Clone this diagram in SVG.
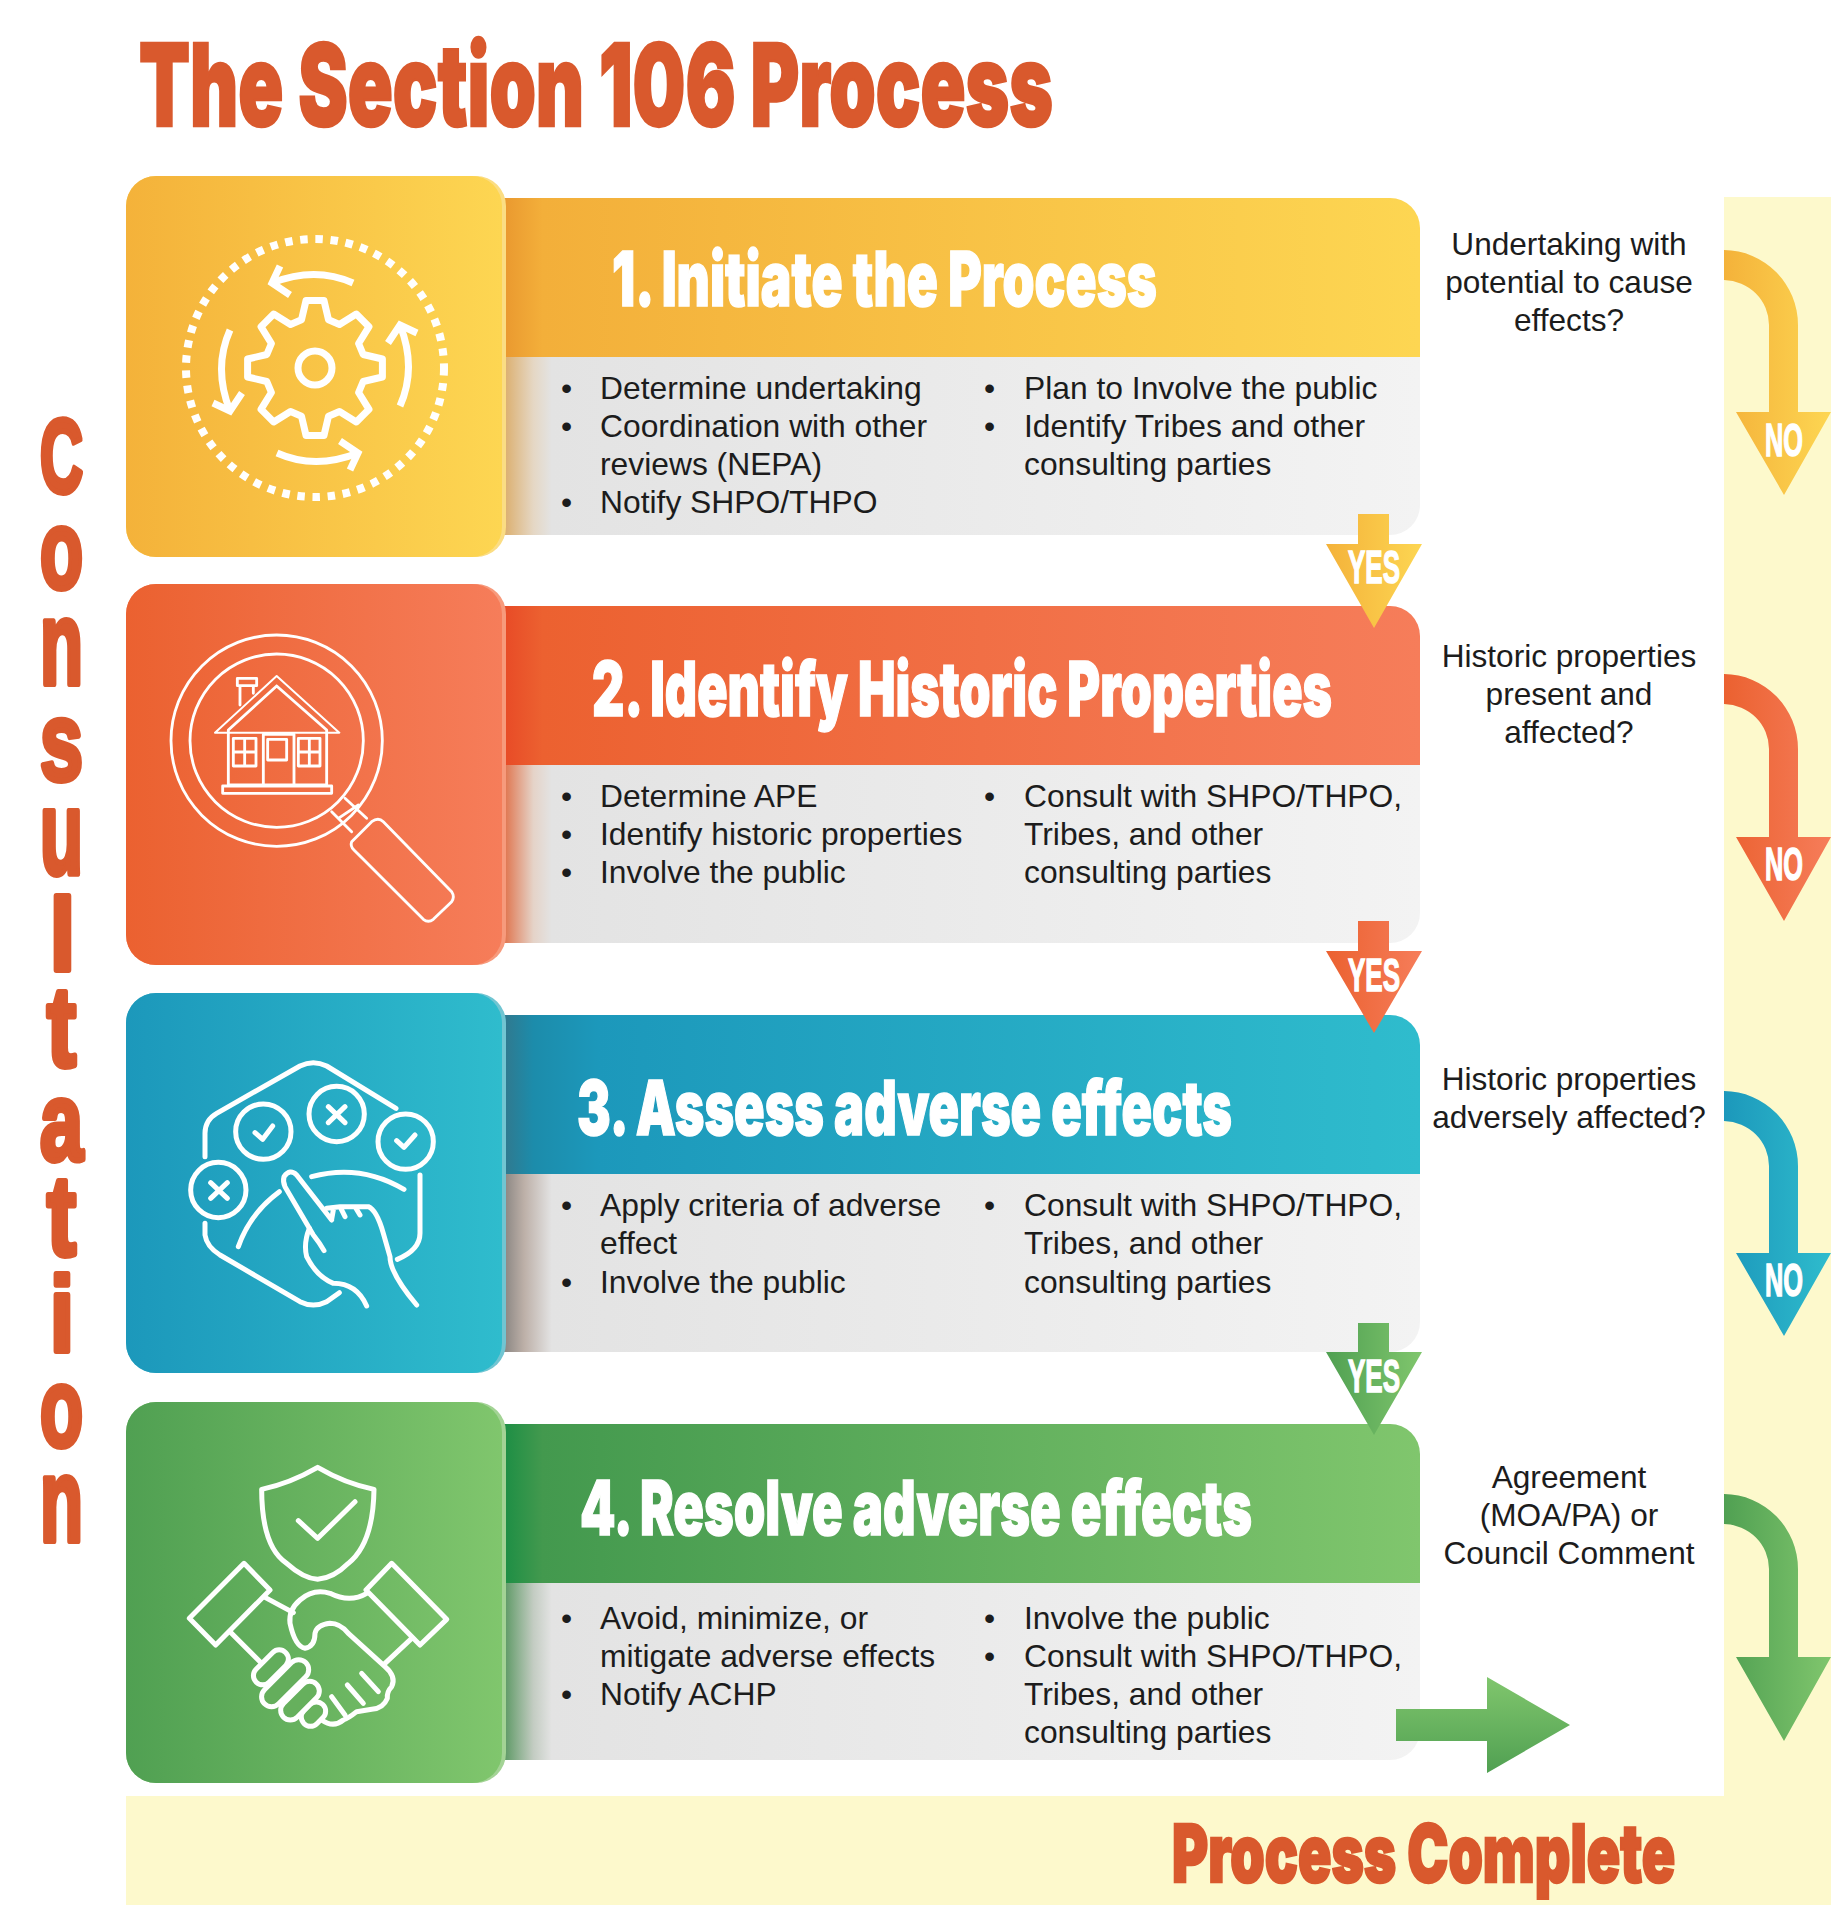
<svg xmlns="http://www.w3.org/2000/svg" xmlns:xlink="http://www.w3.org/1999/xlink" width="1846" height="1922" viewBox="0 0 1846 1922">
<style>
text{font-family:"Liberation Sans",Arial,sans-serif}
.h{font-family:Inter,"Liberation Sans",sans-serif;font-weight:900}
.r{fill:#d9592d;stroke:#d9592d;stroke-width:2.5px}
.w{fill:#fff}
.hd{font-size:76px;fill:#fff;stroke:#fff;stroke-width:1.5px}
.b{font-size:31.8px;fill:#1c1c1c}
.q{font-size:31.6px;fill:#1c1c1c;text-anchor:middle}
.ar{font-size:46px;fill:#fff;stroke:#fff;stroke-width:1.5px}
.i{fill:none;stroke:#fff;stroke-linecap:round;stroke-linejoin:round}
#consultation text{stroke-width:6px;stroke-linejoin:round}
</style>
<defs>
<linearGradient id="g1"><stop offset="0" stop-color="#f4b23a"/><stop offset="1" stop-color="#fdd652"/></linearGradient>
<linearGradient id="g2"><stop offset="0" stop-color="#eb6130"/><stop offset="1" stop-color="#f67d5a"/></linearGradient>
<linearGradient id="g3"><stop offset="0" stop-color="#1c98bb"/><stop offset="1" stop-color="#2fbccd"/></linearGradient>
<linearGradient id="g4"><stop offset="0" stop-color="#50a052"/><stop offset="1" stop-color="#80c66d"/></linearGradient>
<linearGradient id="g4v" x1="0" y1="0" x2="0" y2="1"><stop offset="0" stop-color="#80c66d"/><stop offset="1" stop-color="#50a052"/></linearGradient>
<linearGradient id="h1" gradientUnits="userSpaceOnUse" x1="506" x2="1420" y1="0" y2="0"><stop offset="0" stop-color="#ea9a30"/><stop offset=".04" stop-color="#f3af3a"/><stop offset="1" stop-color="#fdd652"/></linearGradient>
<linearGradient id="h2" gradientUnits="userSpaceOnUse" x1="506" x2="1420" y1="0" y2="0"><stop offset="0" stop-color="#e84c27"/><stop offset=".04" stop-color="#ec6130"/><stop offset="1" stop-color="#f67d5a"/></linearGradient>
<linearGradient id="h3" gradientUnits="userSpaceOnUse" x1="506" x2="1420" y1="0" y2="0"><stop offset="0" stop-color="#2f7a90"/><stop offset=".03" stop-color="#1c8cab"/><stop offset=".1" stop-color="#1c98bb"/><stop offset="1" stop-color="#2fbccd"/></linearGradient>
<linearGradient id="h4" gradientUnits="userSpaceOnUse" x1="506" x2="1420" y1="0" y2="0"><stop offset="0" stop-color="#1f8f45"/><stop offset=".04" stop-color="#43994e"/><stop offset="1" stop-color="#80c66d"/></linearGradient>
<linearGradient id="b1" gradientUnits="userSpaceOnUse" x1="506" x2="1420" y1="0" y2="0"><stop offset="0" stop-color="#dcb173"/><stop offset=".03" stop-color="#e5d7c4"/><stop offset=".05" stop-color="#e3e3e3"/><stop offset="1" stop-color="#f3f3f3"/></linearGradient>
<linearGradient id="b2" gradientUnits="userSpaceOnUse" x1="506" x2="1420" y1="0" y2="0"><stop offset="0" stop-color="#e07a55"/><stop offset=".03" stop-color="#e5d3c8"/><stop offset=".05" stop-color="#e3e3e3"/><stop offset="1" stop-color="#f3f3f3"/></linearGradient>
<linearGradient id="b3" gradientUnits="userSpaceOnUse" x1="506" x2="1420" y1="0" y2="0"><stop offset="0" stop-color="#8f8a86"/><stop offset=".02" stop-color="#bdb0a8"/><stop offset=".05" stop-color="#e3e3e3"/><stop offset="1" stop-color="#f3f3f3"/></linearGradient>
<linearGradient id="b4" gradientUnits="userSpaceOnUse" x1="506" x2="1420" y1="0" y2="0"><stop offset="0" stop-color="#639c6a"/><stop offset=".03" stop-color="#c3ccc2"/><stop offset=".05" stop-color="#e3e3e3"/><stop offset="1" stop-color="#f3f3f3"/></linearGradient>
<g id="swirl"><path d="M38,-85 Q0,-102 -43,-85"/><path d="M-35,-102 L-43,-85 L-25,-73"/></g>
</defs>
<rect width="1846" height="1922" fill="#fff"/>
<g id="band"><path fill="#fdf9cc" d="M1724,197 H1831 V1905 H126 V1796 H1724 Z"/></g>

<text id="title" class="h r" x="139" y="126" font-size="114" textLength="914" lengthAdjust="spacingAndGlyphs">The Section 106 Process</text>

<g id="consultation" class="h r">
<text x="40" y="492" font-size="104" textLength="43" lengthAdjust="spacingAndGlyphs">C</text>
<text x="40" y="588" font-size="112" textLength="43" lengthAdjust="spacingAndGlyphs">o</text>
<text x="40" y="684" font-size="118" textLength="43" lengthAdjust="spacingAndGlyphs">n</text>
<text x="40" y="780" font-size="112" textLength="43" lengthAdjust="spacingAndGlyphs">s</text>
<text x="40" y="874" font-size="118" textLength="43" lengthAdjust="spacingAndGlyphs">u</text>
<text x="50" y="970" font-size="102" textLength="25" lengthAdjust="spacingAndGlyphs">l</text>
<text x="47" y="1066" font-size="113" textLength="29" lengthAdjust="spacingAndGlyphs">t</text>
<text x="40" y="1160" font-size="112" textLength="43" lengthAdjust="spacingAndGlyphs">a</text>
<text x="47" y="1255" font-size="113" textLength="29" lengthAdjust="spacingAndGlyphs">t</text>
<text x="50" y="1351" font-size="106" textLength="24" lengthAdjust="spacingAndGlyphs">i</text>
<text x="40" y="1446" font-size="112" textLength="43" lengthAdjust="spacingAndGlyphs">o</text>
<text x="40" y="1541" font-size="118" textLength="43" lengthAdjust="spacingAndGlyphs">n</text>
</g>

<g id="step1">
<path fill="url(#h1)" d="M500,198 H1390 A30,30 0 0 1 1420,228 V357 H500 Z"/>
<path fill="url(#b1)" d="M500,357 H1420 V505 A30,30 0 0 1 1390,535 H500 Z"/>
<rect x="126" y="176" width="380" height="381" rx="30" fill="#fbdd83"/>
<rect x="126" y="176" width="376" height="381" rx="30" fill="url(#g1)"/>
<g class="i">
<circle cx="315" cy="368" r="129" stroke-width="8" stroke-dasharray="7.5 7.7" stroke-linecap="butt"/>
<circle cx="315" cy="368" r="17" stroke-width="7"/>
<path stroke-width="7" transform="translate(315,368)" d="M-13.5,-48.2L-9,-67.4L9,-67.4L13.5,-48.2L24.5,-43.6L41.3,-54L54,-41.3L43.6,-24.5L48.2,-13.5L67.4,-9L67.4,9L48.2,13.5L43.6,24.5L54,41.3L41.3,54L24.5,43.6L13.5,48.2L9,67.4L-9,67.4L-13.5,48.2L-24.5,43.6L-41.3,54L-54,41.3L-43.6,24.5L-48.2,13.5L-67.4,9L-67.4,-9L-48.2,-13.5L-43.6,-24.5L-54,-41.3L-41.3,-54L-24.5,-43.6Z"/>
<g stroke-width="7" stroke-linecap="butt" stroke-linejoin="miter">
<use xlink:href="#swirl" href="#swirl" transform="translate(315,368)"/>
<use xlink:href="#swirl" href="#swirl" transform="translate(315,368) rotate(-90)"/>
<use xlink:href="#swirl" href="#swirl" transform="translate(315,368) rotate(180)"/>
<use xlink:href="#swirl" href="#swirl" transform="translate(315,368) rotate(90)"/>
</g>
</g>
<text class="hd h" x="612" y="306" textLength="545" lengthAdjust="spacingAndGlyphs">1. Initiate the Process</text>
<g class="b">
<text x="561" y="399">•</text><text x="600" y="399">Determine undertaking</text>
<text x="561" y="437">•</text><text x="600" y="437">Coordination with other</text>
<text x="600" y="475">reviews (NEPA)</text>
<text x="561" y="513">•</text><text x="600" y="513">Notify SHPO/THPO</text>
<text x="984" y="399">•</text><text x="1024" y="399">Plan to Involve the public</text>
<text x="984" y="437">•</text><text x="1024" y="437">Identify Tribes and other</text>
<text x="1024" y="475">consulting parties</text>
</g>
</g>

<g id="step2">
<path fill="url(#h2)" d="M500,606 H1390 A30,30 0 0 1 1420,636 V765 H500 Z"/>
<path fill="url(#b2)" d="M500,765 H1420 V913 A30,30 0 0 1 1390,943 H500 Z"/>
<rect x="126" y="584" width="380" height="381" rx="30" fill="#f79a7c"/>
<rect x="126" y="584" width="376" height="381" rx="30" fill="url(#g2)"/>
<g class="i" transform="translate(100,570) scale(.33333)" stroke-width="8.5">
<circle cx="530" cy="512" r="317"/><circle cx="530" cy="512" r="260"/>
<path d="M695,725 L755,785 M735,685 L800,745 M715,745 L775,705"/>
<path d="M755,815 L815,755 Q835,740 850,755 L1055,965 Q1065,980 1055,995 L1000,1048 Q985,1060 970,1048 L762,840 Q750,828 755,815 Z"/>
<path d="M530,318 L718,488 H345 Z" stroke-width="6"/>
<path d="M530,348 L385,480 V645 M530,348 L680,480 V645 M385,645 H680"/>
<path d="M412,325 H470 V347 H412 Z M420,347 V405 M460,347 V370"/>
<path d="M368,648 H695 V670 H368 Z"/>
<path d="M490,645 V493 H582 V645 M503,508 H560 V570 H503 Z"/>
<path d="M400,505 H468 V588 H400 Z M434,505 V588 M400,546 H468"/>
<path d="M595,505 H660 V588 H595 Z M628,505 V588 M595,546 H660"/>
</g>
<text class="hd h" x="592" y="716" textLength="740" lengthAdjust="spacingAndGlyphs">2. Identify Historic Properties</text>
<g class="b">
<text x="561" y="807">•</text><text x="600" y="807">Determine APE</text>
<text x="561" y="845">•</text><text x="600" y="845">Identify historic properties</text>
<text x="561" y="883">•</text><text x="600" y="883">Involve the public</text>
<text x="984" y="807">•</text><text x="1024" y="807">Consult with SHPO/THPO,</text>
<text x="1024" y="845">Tribes, and other</text>
<text x="1024" y="883">consulting parties</text>
</g>
</g>

<g id="step3">
<path fill="url(#h3)" d="M500,1015 H1390 A30,30 0 0 1 1420,1045 V1174 H500 Z"/>
<path fill="url(#b3)" d="M500,1174 H1420 V1322 A30,30 0 0 1 1390,1352 H500 Z"/>
<rect x="126" y="993" width="380" height="380" rx="30" fill="#71c5d2"/>
<rect x="126" y="993" width="376" height="380" rx="30" fill="url(#g3)"/>
<g class="i" transform="translate(100,980) scale(.33333)" stroke-width="15">
<path d="M315,530 V460 Q315,420 350,400 L600,258 Q640,238 680,258 L888,385"/>
<path d="M960,585 V760 Q960,810 892,838"/>
<path d="M315,730 V765 Q320,800 360,825 L600,965 Q640,985 680,965 L718,938"/>
<circle cx="490" cy="455" r="83"/><circle cx="710" cy="402" r="83"/><circle cx="917" cy="485" r="83"/><circle cx="355" cy="630" r="83"/>
<path d="M465,458 L488,478 L518,438 M890,482 L912,502 L945,465 M685,380 L735,428 M735,380 L685,428 M332,608 L382,655 M382,608 L332,655"/>
<path d="M635,590 Q780,550 912,628 M538,635 Q450,700 415,800"/>
<path d="M695,720 L590,585 Q570,565 552,590 Q548,605 555,620 L640,765 Q660,790 672,812"/>
<path d="M628,745 Q610,790 620,830 Q650,890 700,910 Q770,910 800,978"/>
<path d="M680,685 L720,680 L735,710 M720,680 L765,680 L780,705 M765,680 L805,680 Q830,690 850,760 L870,830 Q870,880 950,975 M700,690 L695,718"/>
</g>
<text class="hd h" x="577" y="1135" textLength="655" lengthAdjust="spacingAndGlyphs">3. Assess adverse effects</text>
<g class="b">
<text x="561" y="1216">•</text><text x="600" y="1216">Apply criteria of adverse</text>
<text x="600" y="1254">effect</text>
<text x="561" y="1293">•</text><text x="600" y="1293">Involve the public</text>
<text x="984" y="1216">•</text><text x="1024" y="1216">Consult with SHPO/THPO,</text>
<text x="1024" y="1254">Tribes, and other</text>
<text x="1024" y="1293">consulting parties</text>
</g>
</g>

<g id="step4">
<path fill="url(#h4)" d="M500,1424 H1390 A30,30 0 0 1 1420,1454 V1583 H500 Z"/>
<path fill="url(#b4)" d="M500,1583 H1420 V1730 A30,30 0 0 1 1390,1760 H500 Z"/>
<rect x="126" y="1402" width="380" height="381" rx="30" fill="#a3d395"/>
<rect x="126" y="1402" width="376" height="381" rx="30" fill="url(#g4)"/>
<g class="i" transform="translate(100,1390) scale(.33333)" stroke-width="15">
<path d="M653,232 Q570,280 485,298 Q485,470 560,520 Q610,565 653,568 Q700,565 745,520 Q820,460 822,298 Q735,280 653,232 Z"/>
<path d="M595,392 L653,445 L765,335"/>
<path d="M432,520 L510,600 L347,765 L268,685 Z M875,520 L1040,688 L960,765 L798,600 Z"/>
<path d="M495,622 L580,668 M390,725 L495,830 M935,745 L855,820"/>
<path d="M800,610 Q750,640 690,610 Q640,595 600,630 Q565,660 570,700 Q585,770 615,775 Q645,770 645,730 Q650,705 690,700 Q720,700 745,730 L855,830 Q890,860 875,890 Q860,905 862,925 Q850,955 815,958 L770,965 Q745,985 730,990 Q700,1015 665,990"/>
<path d="M785,850 L835,905 M742,885 L790,940 M695,920 L735,975"/>
<rect x="600" y="945" width="80" height="55" rx="27" transform="rotate(-45 640 972)" fill="#68b25e"/>
<rect x="530" y="903" width="140" height="58" rx="29" transform="rotate(-45 600 932)" fill="#66b05d"/>
<rect x="468" y="850" width="175" height="60" rx="30" transform="rotate(-45 555 880)" fill="#64ae5c"/>
<rect x="450" y="805" width="125" height="55" rx="27" transform="rotate(-45 512 832)" fill="#62ad5b"/>
</g>
<text class="hd h" x="580" y="1535" textLength="672" lengthAdjust="spacingAndGlyphs">4. Resolve adverse effects</text>
<g class="b">
<text x="561" y="1629">•</text><text x="600" y="1629">Avoid, minimize, or</text>
<text x="600" y="1667">mitigate adverse effects</text>
<text x="561" y="1705">•</text><text x="600" y="1705">Notify ACHP</text>
<text x="984" y="1629">•</text><text x="1024" y="1629">Involve the public</text>
<text x="984" y="1667">•</text><text x="1024" y="1667">Consult with SHPO/THPO,</text>
<text x="1024" y="1705">Tribes, and other</text>
<text x="1024" y="1743">consulting parties</text>
</g>
</g>

<g id="connectors">
<path fill="url(#g1)" d="M1358,514 H1389 V544 H1422 L1374,628 L1326,544 H1358 Z"/>
<path fill="url(#g2)" d="M1358,921 H1389 V951 H1422 L1374,1033 L1326,951 H1358 Z"/>
<path fill="url(#g4)" d="M1358,1323 H1389 V1352 H1422 L1374,1435 L1326,1352 H1358 Z"/>
<path fill="url(#g1)" d="M1724,250 A75,75 0 0 1 1798,325 V412 H1831 L1784,495 L1736,412 H1769 V325 A46,45 0 0 0 1724,280 Z"/>
<path fill="url(#g2)" d="M1724,674 A75,75 0 0 1 1798,749 V837 H1831 L1784,921 L1736,837 H1769 V749 A46,45 0 0 0 1724,704 Z"/>
<path fill="url(#g3)" d="M1724,1091 A75,75 0 0 1 1798,1166 V1253 H1831 L1784,1336 L1736,1253 H1769 V1166 A46,45 0 0 0 1724,1121 Z"/>
<path fill="url(#g4)" d="M1724,1494 A75,75 0 0 1 1798,1569 V1657 H1831 L1784,1741 L1736,1657 H1769 V1569 A46,45 0 0 0 1724,1524 Z"/>
<path fill="url(#g4v)" d="M1396,1709 H1487 V1677 L1570,1725 L1487,1773 V1741 H1396 Z"/>
<g class="h ar">
<text x="1348" y="583" textLength="52" lengthAdjust="spacingAndGlyphs">YES</text>
<text x="1348" y="991" textLength="52" lengthAdjust="spacingAndGlyphs">YES</text>
<text x="1348" y="1392" textLength="52" lengthAdjust="spacingAndGlyphs">YES</text>
<text x="1765" y="456" textLength="38" lengthAdjust="spacingAndGlyphs">NO</text>
<text x="1765" y="880" textLength="38" lengthAdjust="spacingAndGlyphs">NO</text>
<text x="1765" y="1296" textLength="38" lengthAdjust="spacingAndGlyphs">NO</text>
</g>
</g>

<g id="questions" class="q">
<text x="1569" y="255">Undertaking with</text>
<text x="1569" y="293">potential to cause</text>
<text x="1569" y="331">effects?</text>
<text x="1569" y="667">Historic properties</text>
<text x="1569" y="705">present and</text>
<text x="1569" y="743">affected?</text>
<text x="1569" y="1090">Historic properties</text>
<text x="1569" y="1128">adversely affected?</text>
<text x="1569" y="1488">Agreement</text>
<text x="1569" y="1526">(MOA/PA) or</text>
<text x="1569" y="1564">Council Comment</text>
</g>

<text id="complete" class="h r" transform="translate(1172,1882) scale(.689,1)" font-size="80">Process Complete</text>
</svg>
